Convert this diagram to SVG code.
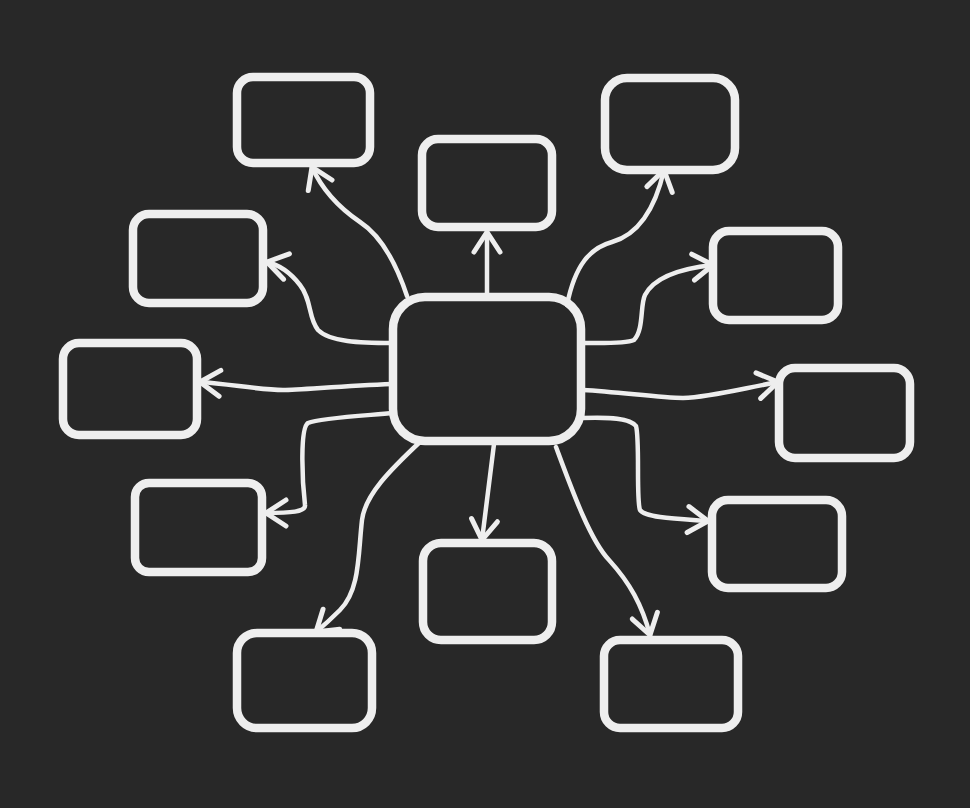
<svg xmlns="http://www.w3.org/2000/svg" width="970" height="808" viewBox="0 0 970 808">
<style>
.box{fill:none;stroke:#eeeeee;stroke-width:8.5;stroke-linejoin:round}
.con{fill:none;stroke:#eeeeee;stroke-width:4.5;stroke-linecap:round;marker-end:url(#arr)}
</style>
<defs>
<marker id="arr" markerUnits="userSpaceOnUse" markerWidth="50" markerHeight="50" viewBox="-25 -25 50 50" refX="0" refY="0" orient="auto">
<path d="M-20,-13 L0,0 L-20,13" fill="none" stroke="#eeeeee" stroke-width="5" stroke-linecap="round" stroke-linejoin="round"/>
</marker>
</defs>
<rect width="970" height="808" fill="#282828"/>
<g id="connectors">
<path class="con" d="M407,296 C395,260 380,235 360,222 C335,205 320,185 312,167"/>
<path class="con" d="M487,295 L487,232"/>
<path class="con" d="M567,305 C575,265 590,248 612,242 C640,234 656,205 664,170"/>
<path class="con" d="M392,343 C360,343 330,342 318,330 C308,318 312,300 300,285 C290,272 280,265 267,262"/>
<path class="con" d="M392,384 C340,386 300,390 283,390 C260,390 230,384 200,382"/>
<path class="con" d="M394,413 C360,416 320,418 308,423 C300,428 302,480 305,505 C306,512 290,513 266,513"/>
<path class="con" d="M421,441 C390,470 365,495 362,520 C358,555 360,590 340,610 C330,620 322,627 316,632"/>
<path class="con" d="M494,444 L482,540"/>
<path class="con" d="M556,447 C572,490 590,540 609,560 C630,583 642,605 650,635"/>
<path class="con" d="M582,418 C610,417 630,418 636,426 C640,440 636,500 640,510 C645,518 680,519 708,521"/>
<path class="con" d="M583,390 C620,392 660,398 683,398 C710,397 740,389 778,382"/>
<path class="con" d="M583,343 C600,343 625,344 634,340 C644,330 640,305 645,295 C655,276 685,268 713,265"/>
</g>
<g id="center"><rect class="box" x="393" y="297" width="188" height="144" rx="32"/></g>
<g id="n-top-left"><rect class="box" x="237" y="77" width="133" height="86" rx="16"/></g>
<g id="n-top-center"><rect class="box" x="422" y="139" width="130" height="88" rx="16"/></g>
<g id="n-top-right"><rect class="box" x="605" y="78" width="130" height="92" rx="22"/></g>
<g id="n-left-upper"><rect class="box" x="133" y="214" width="130" height="89" rx="16"/></g>
<g id="n-right-upper"><rect class="box" x="713" y="231" width="125" height="89" rx="16"/></g>
<g id="n-left-middle"><rect class="box" x="63" y="343" width="134" height="92" rx="16"/></g>
<g id="n-right-middle"><rect class="box" x="779" y="368" width="131" height="90" rx="16"/></g>
<g id="n-left-lower"><rect class="box" x="135" y="483" width="127" height="89" rx="14"/></g>
<g id="n-right-lower"><rect class="box" x="712" y="500" width="130" height="88" rx="16"/></g>
<g id="n-bottom-center"><rect class="box" x="423" y="543" width="129" height="97" rx="18"/></g>
<g id="n-bottom-left"><rect class="box" x="237" y="633" width="135" height="95" rx="20"/></g>
<g id="n-bottom-right"><rect class="box" x="604" y="640" width="134" height="88" rx="16"/></g>
</svg>
